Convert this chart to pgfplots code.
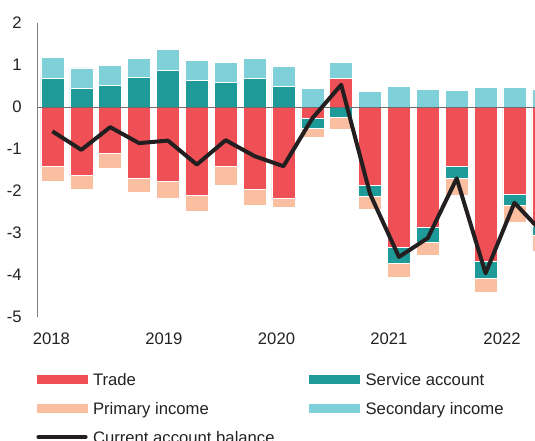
\documentclass[border=0pt]{standalone}
\usepackage{fontspec}
\setmainfont{Liberation Sans}
\usepackage{pgfplots}
\pgfplotsset{compat=1.18}
\usepackage{pgfplotstable}

\definecolor{trade}{HTML}{EF5056}
\definecolor{serv}{HTML}{1E9A98}
\definecolor{prim}{HTML}{F9BFA0}
\definecolor{sec}{HTML}{80D0DA}
\definecolor{cab}{HTML}{231F20}
\definecolor{axgray}{HTML}{808080}
\definecolor{txt}{HTML}{222222}

\pgfplotstableread{
i  tradeN servN primN tradeP servP secP cab
0  -1.41  0     -0.36 0      0.68  0.51 -0.58
1  -1.63  0     -0.32 0      0.45  0.48 -1.02
2  -1.10  0     -0.37 0      0.52  0.47 -0.48
3  -1.70  0     -0.32 0      0.70  0.46 -0.86
4  -1.77  0     -0.40 0      0.87  0.50 -0.80
5  -2.11  0     -0.37 0      0.63  0.48 -1.37
6  -1.41  0     -0.45 0      0.59  0.48 -0.79
7  -1.96  0     -0.37 0      0.68  0.48 -1.17
8  -2.17  0     -0.21 0      0.49  0.48 -1.41
9  -0.26  -0.24 -0.21 0      0     0.44 -0.27
10 0      -0.24 -0.29 0.68   0     0.38 0.53
11 -1.86  -0.26 -0.32 0      0     0.37 -2.07
12 -3.35  -0.37 -0.34 0      0     0.49 -3.57
13 -2.87  -0.34 -0.33 0      0     0.42 -3.12
14 -1.41  -0.29 -0.40 0      0     0.40 -1.70
15 -3.67  -0.41 -0.34 0      0     0.46 -3.96
16 -2.07  -0.27 -0.41 0      0     0.47 -2.28
17 -2.83  -0.23 -0.37 0      0     0.42 -3.01
}\data

\pgfplotsset{common/.style={
  scale only axis, width=372.75pt, height=220.5pt,
  at={(28.5pt,93pt)}, anchor=south west,
  xmin=-0.5, xmax=16.712, ymin=-5, ymax=2,
  clip=true,
}}
\pgfplotsset{barstyle/.style={ybar stacked, bar width=17.25pt}}

\begin{document}
\begin{tikzpicture}[font=\fontsize{12.5pt}{15pt}\selectfont]
\useasboundingbox (0,0) rectangle (401.25pt,330.75pt);
% negative stack + axis decorations
\begin{axis}[common, barstyle,
  axis y line*=left, axis x line*=bottom,
  x axis line style={draw=none},
  y axis line style={-, draw=axgray, line width=0.75pt},
  major tick length=0pt,
  ytick={-5,-4,-3,-2,-1,0,1,2}, yticklabels={-5,-4,-3,-2,-1,0,1,2},
  xtick={-0.035,3.86,7.76,11.65,15.57}, xticklabels={2018,2019,2020,2021,2022},
  yticklabel style={anchor=east, inner sep=0pt, xshift=-12pt, text=txt},
  xticklabel style={anchor=north, inner sep=0pt, yshift=-12pt, text=txt},
]
\addplot[fill=trade, draw=white, line width=0.4pt] table[x=i, y=tradeN]{\data};
\addplot[fill=serv, draw=white, line width=0.4pt] table[x=i, y=servN]{\data};
\addplot[fill=prim, draw=white, line width=0.4pt] table[x=i, y=primN]{\data};
\end{axis}
% positive stack
\begin{axis}[common, barstyle, hide axis]
\addplot[fill=trade, draw=white, line width=0.4pt] table[x=i, y=tradeP]{\data};
\addplot[fill=serv, draw=white, line width=0.4pt] table[x=i, y=servP]{\data};
\addplot[fill=sec, draw=white, line width=0.4pt] table[x=i, y=secP]{\data};
\end{axis}
% lines and legend
\begin{axis}[common, hide axis,
  legend columns=2, legend cell align=left,
  legend style={at={(axis description cs:-0.012,-0.1905)}, anchor=north west,
    draw=none, fill=none, inner sep=0pt, outer sep=0pt,
    row sep=12.75pt, column sep=0pt,
    nodes={inner sep=0pt, text height=9pt, text depth=0pt, text=txt},
    /tikz/every odd column/.append style={column sep=0.75pt},
    /tikz/every even column/.append style={column sep=22.5pt}},
]
\addlegendimage{legend image code/.code={\draw[trade, line width=6.75pt] (0pt,0pt) -- (38.25pt,0pt);}}
\addlegendentry{Trade}
\addlegendimage{legend image code/.code={\draw[serv, line width=6.75pt] (0pt,0pt) -- (38.25pt,0pt);}}
\addlegendentry{Service account}
\addlegendimage{legend image code/.code={\draw[prim, line width=6.75pt] (0pt,0pt) -- (38.25pt,0pt);}}
\addlegendentry{Primary income}
\addlegendimage{legend image code/.code={\draw[sec, line width=6.75pt] (0pt,0pt) -- (38.25pt,0pt);}}
\addlegendentry{Secondary income}
\addlegendimage{legend image code/.code={\draw[cab, line width=3.2pt, line cap=round] (1.5pt,0pt) -- (36.75pt,0pt);}}
\addlegendentry{Current account balance}
\addplot[axgray!85!black, line width=0.75pt, forget plot] coordinates {(-0.5,0) (17.5,0)};
\addplot[cab, line width=3pt, line join=round, forget plot] table[x=i, y=cab]{\data};
\end{axis}
\end{tikzpicture}
\end{document}
